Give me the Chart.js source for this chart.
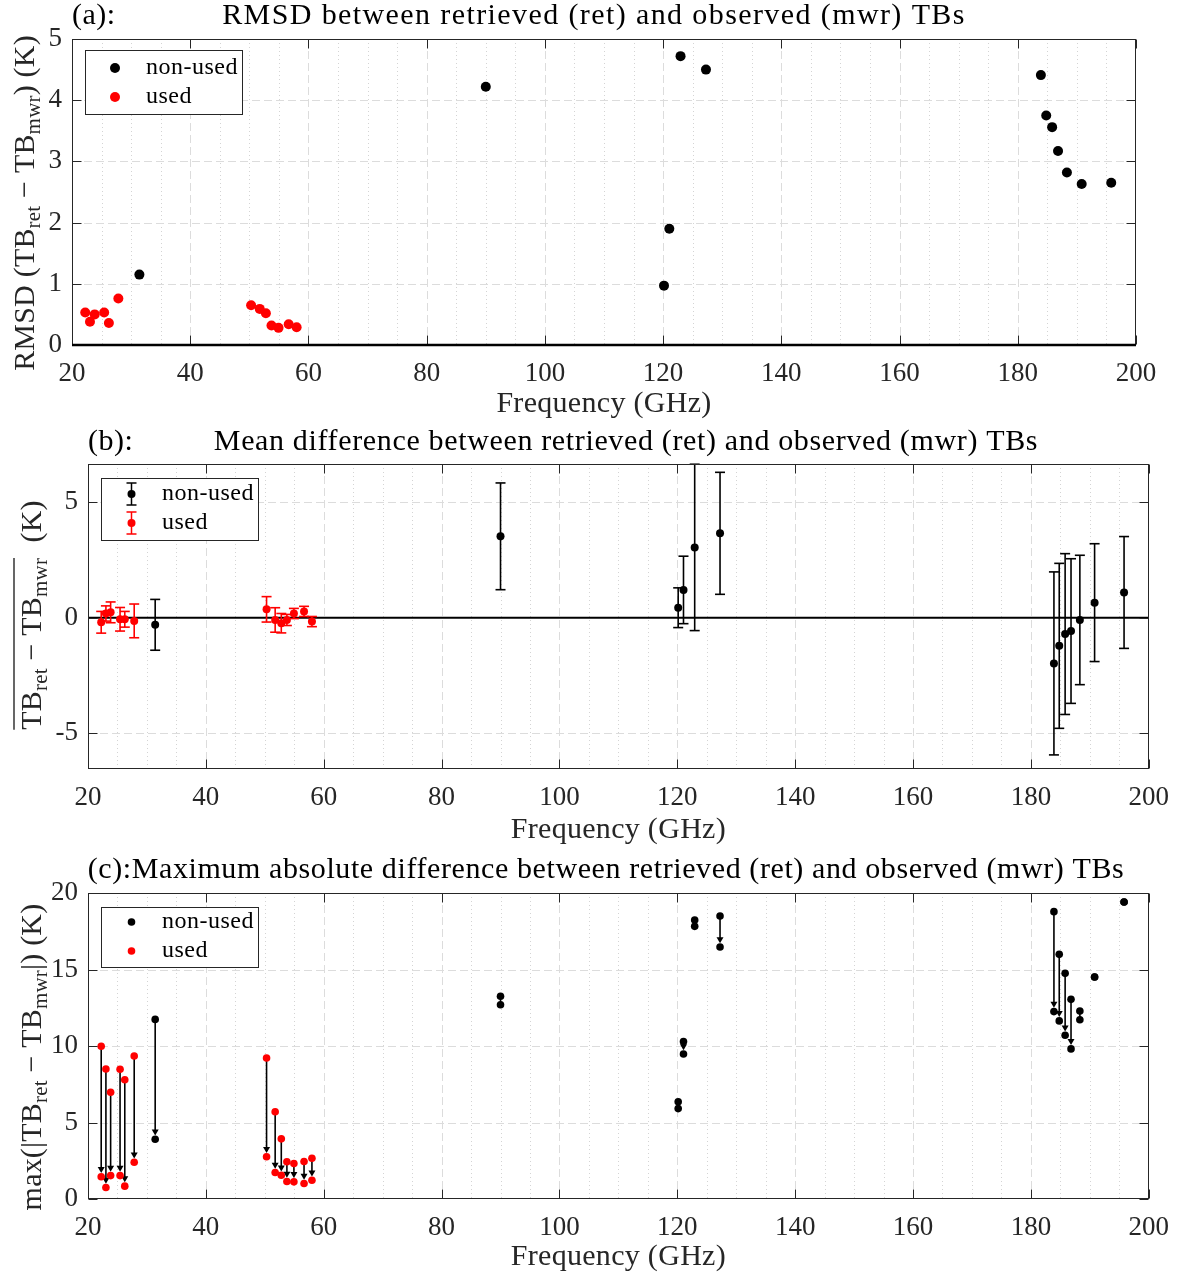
<!DOCTYPE html>
<html><head><meta charset="utf-8">
<script src="https://cdn.jsdelivr.net/npm/chart.js@4/dist/chart.umd.min.js"></script>
<style>
html,body{margin:0;padding:0;background:#fff;width:1182px;height:1274px;overflow:hidden}
#wrap{position:relative;width:1182px;height:1274px;background:#fff}
#wrap canvas{position:absolute;left:0}
</style></head><body>
<div id="wrap">
<canvas id="ca" width="1182" height="425" style="top:0px"></canvas>
<canvas id="cb" width="1182" height="425" style="top:425px"></canvas>
<canvas id="cc" width="1182" height="424" style="top:850px"></canvas>
</div>
<script>
// ---------------- data ----------------
const freqs = [22.24, 23.04, 23.84, 25.44, 26.24, 27.84, 31.40,
               50.30, 51.76, 52.80, 53.75, 54.94, 56.66, 58.00,
               90.00, 120.15, 121.05, 122.95, 127.25,
               183.91, 184.81, 185.81, 186.81, 188.31, 190.81, 195.81];
const usedFlag = [1,1,1,1,1,1,0, 1,1,1,1,1,1,1, 0,0,0,0,0, 0,0,0,0,0,0,0];
const rmsd = [0.53, 0.38, 0.50, 0.53, 0.36, 0.76, 1.15,
              0.65, 0.59, 0.52, 0.32, 0.28, 0.34, 0.29,
              4.22, 0.97, 1.90, 4.72, 4.50,
              4.41, 3.75, 3.56, 3.17, 2.82, 2.63, 2.65];
const meanDiff = [-0.20, 0.18, 0.23, -0.07, -0.07, -0.14, -0.31,
                  0.36, -0.10, -0.24, -0.10, 0.18, 0.27, -0.17,
                  3.52, 0.43, 1.20, 3.04, 3.65,
                  -1.98, -1.22, -0.71, -0.58, -0.10, 0.65, 1.09];
const stdDiff = [0.47, 0.33, 0.45, 0.51, 0.34, 0.73, 1.10,
                 0.55, 0.53, 0.42, 0.24, 0.22, 0.22, 0.22,
                 2.31, 0.86, 1.46, 3.60, 2.64,
                 3.96, 3.57, 3.48, 3.13, 2.80, 2.55, 2.42];
const maxDiffHigh = [9.98, 8.50, 6.98, 8.48, 7.79, 9.35, 11.74,
                     9.22, 5.70, 3.93, 2.43, 2.32, 2.45, 2.66,
                     13.25, 6.35, 10.29, 18.24, 18.50,
                     18.78, 15.99, 14.75, 13.05, 12.29, 14.51, 19.41];
const maxDiffLow = [1.45, 0.75, 1.53, 1.53, 0.84, 2.40, 3.91,
                    2.76, 1.73, 1.55, 1.14, 1.12, 1.01, 1.23,
                    12.70, 5.91, 9.48, 17.82, 16.47,
                    12.25, 11.64, 10.70, 9.81, 11.72, 14.51, 19.41];
const xTickValues = [20, 40, 60, 80, 100, 120, 140, 160, 180, 200];
const yTicksA = [0, 1, 2, 3, 4, 5];
const yTicksB = [-5, 0, 5];
const yTicksC = [0, 5, 10, 15, 20];
const legendLabels = ['non-used', 'used'];
const seriesColors = ['#000000', '#ff0000'];

// ---------------- helpers ----------------
const FONT = "'Liberation Serif', 'DejaVu Serif', serif";
const AX = '#262626';
function pts(vals, used) {
  const out = [];
  freqs.forEach((f, i) => { if (usedFlag[i] === used) out.push({x: f, y: vals[i]}); });
  return out;
}
function setSpacing(ctx, px) { try { ctx.letterSpacing = px + 'px'; } catch (e) {} }
function drawText(ctx, t, x, y, size, spacing, align, color) {
  ctx.save();
  ctx.font = size + 'px ' + FONT;
  setSpacing(ctx, spacing);
  ctx.fillStyle = color || '#000';
  ctx.textAlign = align || 'left';
  ctx.textBaseline = 'middle';
  ctx.fillText(t, x, y);
  ctx.restore();
}
// rich rotated label with subscripts / overline
function drawRich(ctx, segs, bx, cy, o) {
  ctx.save();
  ctx.translate(bx, cy); ctx.rotate(-Math.PI / 2);
  ctx.fillStyle = o.color; ctx.textBaseline = 'alphabetic'; ctx.textAlign = 'left';
  const ws = []; let total = 0;
  segs.forEach(s => {
    ctx.font = (s.sub ? o.subSize : o.size) + 'px ' + FONT;
    setSpacing(ctx, o.spacing);
    const w = ctx.measureText(s.t).width; ws.push(w); total += w;
  });
  let xx = -total / 2, o0 = null, o1 = null;
  segs.forEach((s, i) => {
    ctx.font = (s.sub ? o.subSize : o.size) + 'px ' + FONT;
    setSpacing(ctx, o.spacing);
    ctx.fillText(s.t, xx, s.sub ? o.subShift : 0);
    if (s.over) { if (o0 === null) o0 = xx; o1 = xx + ws[i]; }
    xx += ws[i];
  });
  if (o0 !== null) {
    ctx.strokeStyle = o.color; ctx.lineWidth = 1.4;
    ctx.beginPath(); ctx.moveTo(o0, o.overY); ctx.lineTo(o1, o.overY); ctx.stroke();
  }
  ctx.restore();
}
function seg(ctx, x1, y1, x2, y2) { ctx.beginPath(); ctx.moveTo(x1, y1); ctx.lineTo(x2, y2); ctx.stroke(); }

function framePlugin(cfg) {
  return {
    id: 'frame',
    beforeDatasetsDraw(chart) {
      const {ctx, chartArea: a, scales: {x, y}} = chart;
      ctx.save();
      ctx.lineWidth = 1;
      // minor vertical dotted grid every 5 GHz
      ctx.strokeStyle = '#d4d4d4'; ctx.setLineDash([1, 3]);
      for (let v = 25; v < 200; v += 5) {
        if (v % 20 === 0) continue;
        const px = Math.round(x.getPixelForValue(v)) + 0.5;
        seg(ctx, px, a.top, px, a.bottom);
      }
      // major dashed grid
      ctx.strokeStyle = '#dcdcdc'; ctx.setLineDash([8, 4]);
      xTickValues.forEach(v => {
        if (v === 20 || v === 200) return;
        const px = Math.round(x.getPixelForValue(v)) + 0.5;
        seg(ctx, px, a.top, px, a.bottom);
      });
      cfg.yTicks.forEach(v => {
        if (v <= y.min || v >= y.max) return;
        if (cfg.zeroLine && v === 0) return;
        const py = Math.round(y.getPixelForValue(v)) + 0.5;
        seg(ctx, a.left, py, a.right, py);
      });
      ctx.setLineDash([]);
      if (cfg.zeroLine) {
        ctx.strokeStyle = '#000'; ctx.lineWidth = cfg.zeroWidth;
        const py = y.getPixelForValue(0);
        seg(ctx, a.left, py, a.right, py);
      }
      if (cfg.extra) cfg.extra(chart);
      ctx.restore();
    },
    afterDatasetsDraw(chart) {
      const {ctx, chartArea: a, scales: {x, y}} = chart;
      ctx.save();
      // box
      ctx.strokeStyle = AX; ctx.lineWidth = 1;
      const L = Math.round(a.left) + 0.5, R = Math.round(a.right) - 0.5;
      const T = Math.round(a.top) + 0.5, B = Math.round(a.bottom) - 0.5;
      ctx.strokeRect(L, T, R - L, B - T);
      // inward ticks
      const tl = 9;
      xTickValues.forEach(v => {
        const px = Math.round(x.getPixelForValue(v)) + 0.5;
        seg(ctx, px, B, px, B - tl); seg(ctx, px, T, px, T + tl);
      });
      cfg.yTicks.forEach(v => {
        const py = Math.round(y.getPixelForValue(v)) + 0.5;
        seg(ctx, L, py, L + tl, py); seg(ctx, R, py, R - tl, py);
      });
      if (cfg.bottomThick) {
        ctx.strokeStyle = '#000'; ctx.lineWidth = 2.6;
        seg(ctx, a.left, a.bottom, a.right, a.bottom);
      }
      // legend
      const lg = cfg.legend;
      ctx.fillStyle = '#fff'; ctx.fillRect(lg.x, lg.y, lg.w, lg.h);
      ctx.strokeStyle = AX; ctx.lineWidth = 1;
      ctx.strokeRect(lg.x + 0.5, lg.y + 0.5, lg.w, lg.h);
      legendLabels.forEach((lab, i) => {
        const yy = lg.rows[i];
        const c = seriesColors[i];
        if (cfg.errLegend) {
          ctx.strokeStyle = c; ctx.lineWidth = 1.5;
          seg(ctx, lg.mx, yy - 11, lg.mx, yy + 11);
          seg(ctx, lg.mx - 5, yy - 11, lg.mx + 5, yy - 11);
          seg(ctx, lg.mx - 5, yy + 11, lg.mx + 5, yy + 11);
        }
        ctx.fillStyle = c; ctx.beginPath(); ctx.arc(lg.mx, yy, cfg.r, 0, Math.PI * 2); ctx.fill();
        drawText(ctx, lab, lg.tx, yy, 24, 0.5, 'left', '#000');
      });
      // titles
      if (cfg.tag) drawText(ctx, cfg.tag, a.left, cfg.titleY, 30, 0.5, 'left', '#000');
      drawText(ctx, cfg.title, cfg.titleX, cfg.titleY, 30, cfg.titleSpacing, 'center', '#000');
      drawText(ctx, 'Frequency (GHz)', (a.left + a.right) / 2, cfg.xTitleY, 30, 0.3, 'center', AX);
      drawRich(ctx, cfg.ylab, cfg.ylabX, cfg.ylabY,
        {size: 30, subSize: 21, subShift: 6, spacing: 0.2, color: AX, overY: -27});
      ctx.restore();
    }
  };
}

function errorBars(chart) {
  const {ctx, scales: {x, y}} = chart;
  freqs.forEach((f, i) => {
    const px = x.getPixelForValue(f);
    const p1 = y.getPixelForValue(meanDiff[i] + stdDiff[i]);
    const p2 = y.getPixelForValue(meanDiff[i] - stdDiff[i]);
    ctx.strokeStyle = seriesColors[usedFlag[i]]; ctx.lineWidth = 1.6;
    seg(ctx, px, p1, px, p2);
    seg(ctx, px - 5, p1, px + 5, p1);
    seg(ctx, px - 5, p2, px + 5, p2);
  });
}
function arrows(chart) {
  const {ctx, scales: {x, y}} = chart;
  const r = 3.8;
  freqs.forEach((f, i) => {
    const px = x.getPixelForValue(f);
    const pt = y.getPixelForValue(maxDiffHigh[i]);
    const pb = y.getPixelForValue(maxDiffLow[i]);
    if (pb - pt < 2) return;
    ctx.strokeStyle = '#000'; ctx.fillStyle = '#000'; ctx.lineWidth = 1.6;
    const tip = pb - r;
    const hl = 6;
    if (tip - pt > hl + 2) {
      seg(ctx, px, pt, px, tip - hl + 1);
      ctx.beginPath(); ctx.moveTo(px, tip); ctx.lineTo(px - 3.5, tip - hl); ctx.lineTo(px + 3.5, tip - hl); ctx.closePath(); ctx.fill();
    } else {
      seg(ctx, px, pt, px, pb);
    }
  });
}

function makeChart(id, cfg) {
  const tickFont = {family: FONT, size: 27};
  return new Chart(document.getElementById(id), {
    type: 'scatter',
    data: {datasets: cfg.datasets},
    options: {
      responsive: false, animation: false, devicePixelRatio: 1,
      layout: {padding: {left: 0, top: cfg.area.top, right: cfg.canvasW - cfg.area.right, bottom: 0}},
      plugins: {legend: {display: false}, tooltip: {enabled: false}, title: {display: false}},
      scales: {
        x: {
          type: 'linear', min: 20, max: 200,
          afterBuildTicks: s => { s.ticks = xTickValues.map(v => ({value: v})); },
          ticks: {font: tickFont, color: AX, padding: 13, maxRotation: 0, autoSkip: false},
          grid: {display: false, drawTicks: false}, border: {display: false},
          afterFit: s => { s.height = cfg.canvasH - cfg.area.bottom; }
        },
        y: {
          type: 'linear', min: cfg.yMin, max: cfg.yMax,
          afterBuildTicks: s => { s.ticks = cfg.yTicks.map(v => ({value: v})); },
          ticks: {font: tickFont, color: AX, padding: 10, autoSkip: false},
          grid: {display: false, drawTicks: false}, border: {display: false},
          afterFit: s => { s.width = cfg.area.left; }
        }
      }
    },
    plugins: [framePlugin(cfg)]
  });
}
function ds(data, color, r) {
  return {data, backgroundColor: color, borderWidth: 0, pointRadius: r, pointHoverRadius: r, clip: false};
}

makeChart('ca', {
  canvasW: 1182, canvasH: 425, area: {left: 72, top: 39, right: 1136, bottom: 345},
  yMin: 0, yMax: 5, yTicks: yTicksA, zeroLine: false, bottomThick: true, r: 5,
  datasets: [ds(pts(rmsd, 0), seriesColors[0], 5), ds(pts(rmsd, 1), seriesColors[1], 5)],
  legend: {x: 85, y: 50, w: 157, h: 64, rows: [68, 97], mx: 115, tx: 146},
  tag: '(a):', title: 'RMSD between retrieved (ret) and observed (mwr) TBs', titleX: 594, titleY: 16, titleSpacing: 1.4,
  xTitleY: 404, ylabX: 34, ylabY: 203,
  ylab: [{t: 'RMSD (TB'}, {t: 'ret', sub: true}, {t: ' − TB'}, {t: 'mwr', sub: true}, {t: ') (K)'}]
});
makeChart('cb', {
  canvasW: 1182, canvasH: 425, area: {left: 88, top: 39, right: 1150, bottom: 344},
  yMin: -6.55, yMax: 6.65, yTicks: yTicksB, zeroLine: true, zeroWidth: 2, r: 4, errLegend: true,
  extra: errorBars,
  datasets: [ds(pts(meanDiff, 0), seriesColors[0], 4), ds(pts(meanDiff, 1), seriesColors[1], 4)],
  legend: {x: 101, y: 53, w: 157, h: 62, rows: [69, 98], mx: 131.5, tx: 162},
  tag: '(b):', title: 'Mean difference between retrieved (ret) and observed (mwr) TBs', titleX: 626, titleY: 17, titleSpacing: 0.65,
  xTitleY: 405, ylabX: 41, ylabY: 190,
  ylab: [{t: 'TB', over: true}, {t: 'ret', sub: true, over: true}, {t: ' − TB', over: true}, {t: 'mwr', sub: true, over: true}, {t: '  (K)'}]
});
makeChart('cc', {
  canvasW: 1182, canvasH: 424, area: {left: 88, top: 43, right: 1150, bottom: 349},
  yMin: 0, yMax: 20, yTicks: yTicksC, zeroLine: false, r: 3.8,
  extra: arrows,
  datasets: [ds(pts(maxDiffHigh, 0), seriesColors[0], 3.8), ds(pts(maxDiffLow, 0), seriesColors[0], 3.8),
             ds(pts(maxDiffHigh, 1), seriesColors[1], 3.8), ds(pts(maxDiffLow, 1), seriesColors[1], 3.8)],
  legend: {x: 101, y: 57, w: 157, h: 60, rows: [72, 101], mx: 131.5, tx: 162},
  tag: '', title: '(c):Maximum absolute difference between retrieved (ret) and observed (mwr) TBs', titleX: 606, titleY: 20, titleSpacing: 0.6,
  xTitleY: 407, ylabX: 41, ylabY: 207,
  ylab: [{t: 'max(|TB'}, {t: 'ret', sub: true}, {t: ' − TB'}, {t: 'mwr', sub: true}, {t: '|) (K)'}]
});
</script>
</body></html>
